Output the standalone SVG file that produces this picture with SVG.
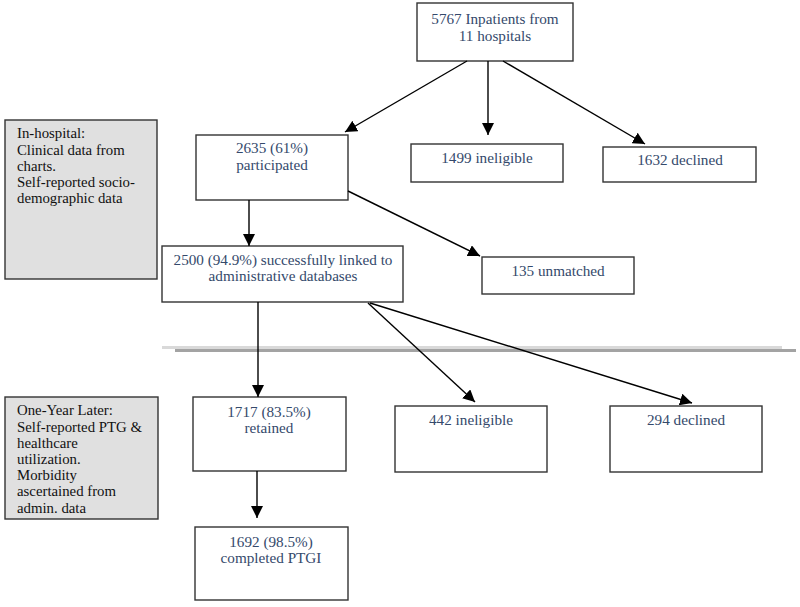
<svg xmlns="http://www.w3.org/2000/svg" width="800" height="607" viewBox="0 0 800 607">
<defs>
<marker id="ah" viewBox="0 0 12 12" refX="12" refY="6" markerWidth="12" markerHeight="12" markerUnits="userSpaceOnUse" orient="auto">
<path d="M0,0 L12,6 L0,12 z" fill="#000"/>
</marker>
<clipPath id="clip2"><rect x="5" y="397" width="153" height="121"/></clipPath>
</defs>
<style>
.box{fill:#fff;stroke:#333;stroke-width:1.4}
.side{fill:#e0e0e0;stroke:#333;stroke-width:1.4}
.t{font-family:"Liberation Serif","Times New Roman",serif;font-size:15.2px;fill:#34496b;text-anchor:middle}
.s{font-family:"Liberation Serif","Times New Roman",serif;font-size:14.8px;fill:#111}
.c{stroke:#000;stroke-width:1.4;fill:none;marker-end:url(#ah)}
</style>
<rect width="800" height="607" fill="#fff"/>
<g id="separator">
<line x1="162" y1="347.5" x2="782" y2="347.5" stroke="#d9d9d9" stroke-width="3"/>
<line x1="175" y1="350.5" x2="796" y2="350.5" stroke="#a3a3a3" stroke-width="3"/>
</g>
<g id="side1">
<rect class="side" x="5" y="120" width="152" height="159"/>
<text class="s" x="17" y="138">In-hospital:</text>
<text class="s" x="17" y="155">Clinical data from</text>
<text class="s" x="17" y="171">charts.</text>
<text class="s" x="17" y="187">Self-reported socio-</text>
<text class="s" x="17" y="203">demographic data</text>
</g>
<g id="side2">
<rect class="side" x="5" y="397" width="153" height="122"/>
<g clip-path="url(#clip2)">
<text class="s" x="17" y="415">One-Year Later:</text>
<text class="s" x="17" y="432">Self-reported PTG &amp;</text>
<text class="s" x="17" y="448">healthcare</text>
<text class="s" x="17" y="464">utilization.</text>
<text class="s" x="17" y="480">Morbidity</text>
<text class="s" x="17" y="496">ascertained from</text>
<text class="s" x="17" y="513">admin. data</text>
</g>
</g>
<g id="n-inpatients">
<rect class="box" x="417" y="3" width="156" height="58"/>
<text class="t" x="495" y="24">5767 Inpatients from</text>
<text class="t" x="495" y="41">11 hospitals</text>
</g>
<g id="n-participated">
<rect class="box" x="196" y="135" width="152" height="65"/>
<text class="t" x="272" y="153">2635 (61%)</text>
<text class="t" x="272" y="170">participated</text>
</g>
<g id="n-ineligible1">
<rect class="box" x="411" y="144" width="152" height="38"/>
<text class="t" x="487" y="163">1499 ineligible</text>
</g>
<g id="n-declined1">
<rect class="box" x="603" y="147" width="153" height="35"/>
<text class="t" x="680" y="165">1632 declined</text>
</g>
<g id="n-linked">
<rect class="box" x="162" y="246" width="241" height="56"/>
<text class="t" x="283" y="265">2500 (94.9%) successfully linked to</text>
<text class="t" x="283" y="281">administrative databases</text>
</g>
<g id="n-unmatched">
<rect class="box" x="482" y="257" width="152" height="37"/>
<text class="t" x="558" y="276">135 unmatched</text>
</g>
<g id="n-retained">
<rect class="box" x="193" y="397" width="153" height="74"/>
<text class="t" x="269" y="417">1717 (83.5%)</text>
<text class="t" x="269" y="433">retained</text>
</g>
<g id="n-ineligible2">
<rect class="box" x="395" y="406" width="152" height="66"/>
<text class="t" x="471" y="425">442 ineligible</text>
</g>
<g id="n-declined2">
<rect class="box" x="610" y="406" width="152" height="66"/>
<text class="t" x="686" y="425">294 declined</text>
</g>
<g id="n-completed">
<rect class="box" x="195" y="527" width="153" height="73"/>
<text class="t" x="271" y="547">1692 (98.5%)</text>
<text class="t" x="271" y="563">completed PTGI</text>
</g>
<g id="connectors">
<line class="c" x1="467" y1="61" x2="345" y2="132"/>
<line class="c" x1="488" y1="61" x2="488" y2="135"/>
<line class="c" x1="503" y1="61" x2="645" y2="144"/>
<line class="c" x1="249" y1="200" x2="249" y2="246"/>
<line class="c" x1="348" y1="191" x2="480" y2="256"/>
<line class="c" x1="258" y1="302" x2="258" y2="397"/>
<line class="c" x1="368" y1="303" x2="475" y2="402"/>
<line class="c" x1="370" y1="303" x2="692" y2="403"/>
<line class="c" x1="257" y1="471" x2="257" y2="518"/>
</g>
</svg>
